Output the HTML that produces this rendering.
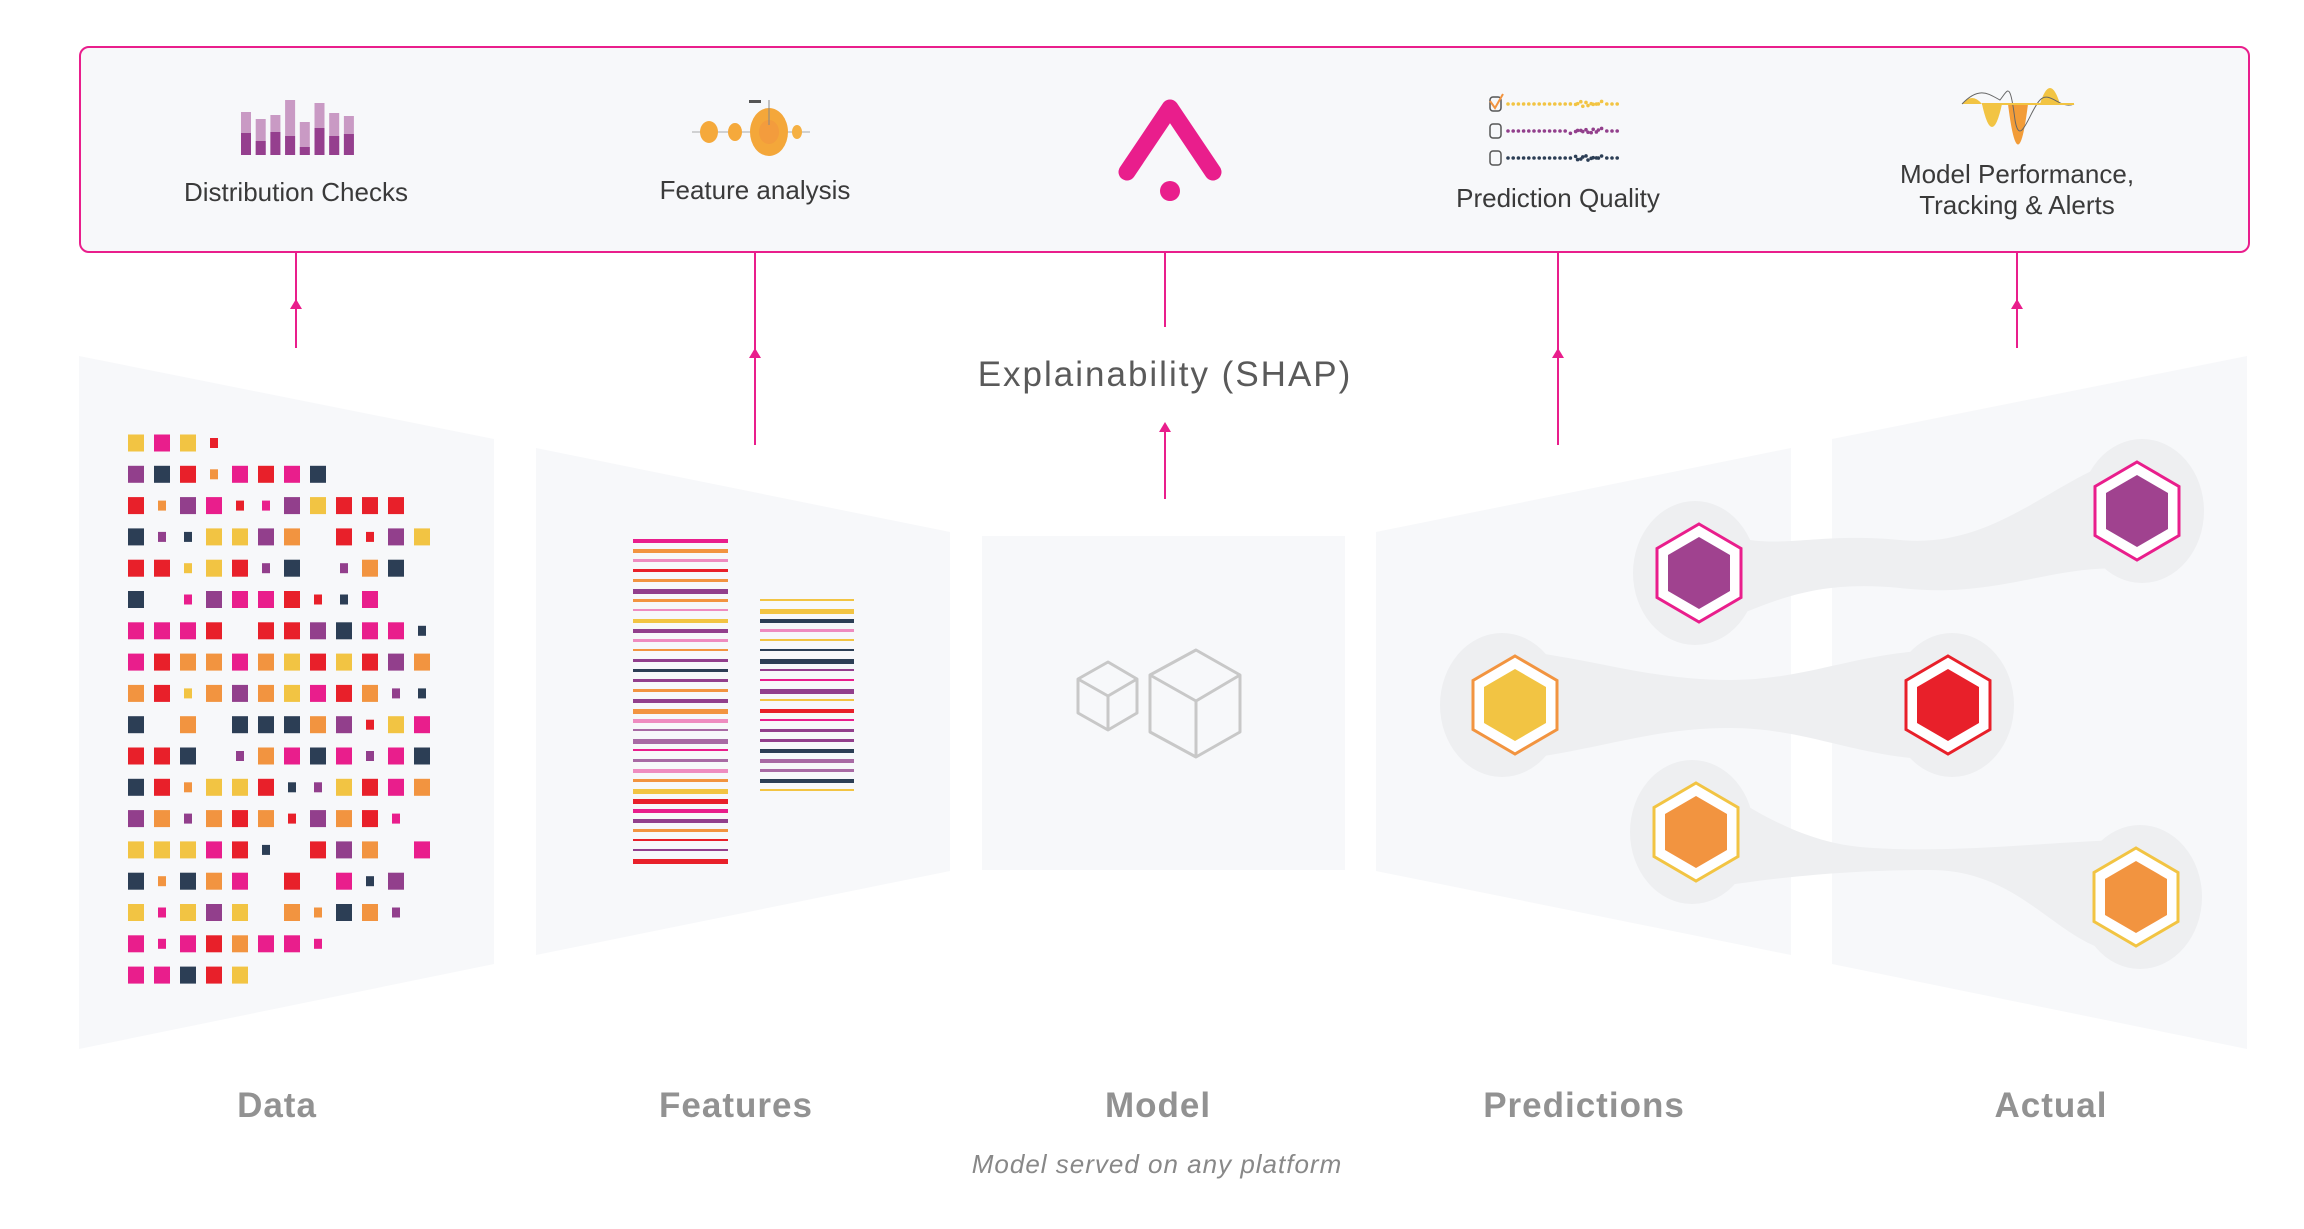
<!DOCTYPE html>
<html><head><meta charset="utf-8"><style>
html,body{margin:0;padding:0;background:#fff;}
svg{display:block;}
text{font-family:"Liberation Sans",sans-serif;}
</style></head><body>
<svg id="s" width="2304" height="1229" viewBox="0 0 2304 1229" xmlns="http://www.w3.org/2000/svg">
<rect x="80" y="47" width="2169" height="205" rx="9" fill="#f7f8fa" stroke="#e91e8c" stroke-width="2"/>
<g id="bars"></g>
<text x="296" y="201" font-size="26" fill="#3a3a3a" text-anchor="middle">Distribution Checks</text>
<g>
<line x1="692" y1="132" x2="810" y2="132" stroke="#aaa" stroke-width="1"/>
<ellipse cx="709" cy="132" rx="9" ry="11" fill="#f5a93b"/>
<ellipse cx="735" cy="132" rx="7" ry="9" fill="#f5a93b"/>
<ellipse cx="769" cy="132" rx="19" ry="24" fill="#f4a73a"/>
<ellipse cx="769" cy="132" rx="10" ry="12" fill="#f29440" opacity=".6"/>
<ellipse cx="797" cy="132" rx="5" ry="7" fill="#f5b043"/>
<line x1="769" y1="100" x2="769" y2="125" stroke="#888" stroke-width="1"/>
<rect x="749" y="100" width="12" height="3" fill="#555"/>
</g>
<text x="755" y="199" font-size="26" fill="#3a3a3a" text-anchor="middle">Feature analysis</text>
<polyline points="1127,172 1170,108 1213,172" fill="none" stroke="#e91e8c" stroke-width="17" stroke-linecap="round" stroke-linejoin="round"/>
<circle cx="1170" cy="191" r="10" fill="#e91e8c"/>
<g id="pq">
<rect x="1490" y="97" width="11" height="14" rx="3" fill="none" stroke="#555" stroke-width="1.5"/>
<polyline points="1490,101 1495,108 1503,94" fill="none" stroke="#f29440" stroke-width="2"/>
<rect x="1490" y="124" width="11" height="14" rx="3" fill="none" stroke="#555" stroke-width="1.5"/>
<rect x="1490" y="151" width="11" height="14" rx="3" fill="none" stroke="#555" stroke-width="1.5"/>
</g>
<text x="1558" y="207" font-size="26" fill="#3a3a3a" text-anchor="middle">Prediction Quality</text>
<g>
<path d="M1962,104 Q1972,92 1982,104 Z" fill="#f2c443"/>
<path d="M1982,104 Q1992,150 2002,104 Z" fill="#f2c443"/>
<path d="M2008,104 Q2018,185 2028,104 Z" fill="#f29c38"/>
<path d="M2040,104 Q2050,72 2060,104 Z" fill="#f2c443"/>
<path d="M1962,104 C1980,85 1990,95 2000,100 C2008,90 2010,80 2015,120 C2020,150 2030,110 2040,100 C2050,90 2060,110 2074,104" fill="none" stroke="#666" stroke-width="1"/>
<line x1="1982" y1="104" x2="2074" y2="104" stroke="#f2c443" stroke-width="2"/>
</g>
<text x="2017" y="183" font-size="26" fill="#3a3a3a" text-anchor="middle">Model Performance,</text>
<text x="2017" y="214" font-size="26" fill="#3a3a3a" text-anchor="middle">Tracking &amp; Alerts</text>

<g fill="#f7f8fa">
<polygon points="79,356 494,439 494,964 79,1049"/>
<polygon points="536,448 950,532 950,871 536,955"/>
<rect x="982" y="536" width="363" height="334"/>
<polygon points="1376,532 1791,448 1791,955 1376,871"/>
<polygon points="1832,439 2247,356 2247,1049 1832,964"/>
</g>

<g stroke="#e91e8c" stroke-width="2" fill="#e91e8c">
<line x1="296" y1="252" x2="296" y2="348"/><polygon points="290,309 302,309 296,299" stroke="none"/>
<line x1="755" y1="252" x2="755" y2="445"/><polygon points="749,358 761,358 755,348" stroke="none"/>
<line x1="1165" y1="252" x2="1165" y2="327"/>
<line x1="1165" y1="499" x2="1165" y2="425"/><polygon points="1159,432 1171,432 1165,422" stroke="none"/>
<line x1="1558" y1="252" x2="1558" y2="445"/><polygon points="1552,358 1564,358 1558,348" stroke="none"/>
<line x1="2017" y1="252" x2="2017" y2="348"/><polygon points="2011,309 2023,309 2017,299" stroke="none"/>
</g>
<text x="1165" y="386" font-size="35" fill="#5a5a5a" text-anchor="middle" letter-spacing="2">Explainability (SHAP)</text>

<g id="grid"></g>
<g id="flines"></g>

<g fill="none" stroke="#c8c8c8" stroke-width="3" stroke-linejoin="round">
<polygon points="1108,662 1137,679 1137,713 1108,730 1078,713 1078,679"/>
<polyline points="1078,679 1108,696 1137,679"/><line x1="1108" y1="696" x2="1108" y2="730"/>
<polygon points="1196,650 1240,675 1240,732 1196,757 1150,732 1150,675"/>
<polyline points="1150,675 1196,701 1240,675"/><line x1="1196" y1="701" x2="1196" y2="757"/>
</g>

<g fill="#eeeff1">
<path d="M1699,520 C1760,560 1800,530 1900,540 C2000,550 2060,470 2137,455 L2137,570 C2060,560 2000,600 1900,588 C1800,578 1760,610 1699,630 Z"/>
<path d="M1515,650 C1600,660 1650,680 1730,680 C1810,680 1860,650 1948,650 L1948,760 C1860,760 1810,728 1730,728 C1650,728 1600,750 1515,760 Z"/>
<path d="M1696,775 C1740,800 1790,840 1860,847 C1950,855 2060,840 2136,840 L2136,955 C2060,955 2030,870 1930,870 C1830,870 1760,880 1696,890 Z"/>
<ellipse cx="1695" cy="573" rx="62" ry="72"/>
<ellipse cx="2142" cy="511" rx="62" ry="72"/>
<ellipse cx="1502" cy="705" rx="62" ry="72"/>
<ellipse cx="1952" cy="705" rx="62" ry="72"/>
<ellipse cx="1692" cy="832" rx="62" ry="72"/>
<ellipse cx="2140" cy="897" rx="62" ry="72"/>
</g>
<g id="hex"></g>

<g font-size="35" font-weight="bold" fill="#929292" text-anchor="middle" letter-spacing="1">
<text x="277" y="1117">Data</text>
<text x="736" y="1117">Features</text>
<text x="1158" y="1117">Model</text>
<text x="1584" y="1117">Predictions</text>
<text x="2051" y="1117">Actual</text>
</g>
<text x="1157" y="1173" font-size="26" font-style="italic" fill="#888" text-anchor="middle" letter-spacing="1">Model served on any platform</text>
</svg>
<script>
var NS="http://www.w3.org/2000/svg";
function el(p,t,a){var e=document.createElementNS(NS,t);for(var k in a)e.setAttribute(k,a[k]);p.appendChild(e);return e;}
var seed=7;function r(){seed=(seed*9301+49297)%233280;return seed/233280;}
var b=document.getElementById('bars');
var tops=[112,119,115,100,122,103,113,116],dk=[133,141,132,136,147,128,136,134];
for(var i=0;i<8;i++){var x=241+i*14.7;el(b,'rect',{x:x,y:tops[i],width:10,height:155-tops[i],fill:'#c99ac4'});el(b,'rect',{x:x,y:dk[i],width:10,height:155-dk[i],fill:'#953f8e'});}
var pq=document.getElementById('pq');var pc=['#f2c443','#923f8c','#2c3e55'];
for(var row=0;row<3;row++){var y=104+row*27;for(var j=0;j<22;j++){var x=1508+j*5.2;var jit=(j>11&&j<19)?(r()-.5)*6:0;el(pq,'circle',{cx:x,cy:y+jit,r:1.8,fill:pc[row]});if(j>12&&j<18)el(pq,'circle',{cx:x+2,cy:y-jit,r:1.8,fill:pc[row]});}}
var g=document.getElementById('grid');var cols=['#e91e8c','#2c3e55','#e8202a','#f29440','#923f8c','#f2c443'];
var lens=[4,8,11,12,11,10,12,12,12,12,12,12,11,12,11,11,8,5];
for(var rr=0;rr<18;rr++){for(var c=0;c<lens[rr];c++){var v=r();if(v<0.06&&rr>1&&c>0)continue;var small=v<0.25&&c>0;var w=small?8:16,h=small?10:17;var cx=128+c*26+8,cy=435+rr*31.3+8;el(g,'rect',{x:cx-w/2,y:cy-h/2,width:w,height:h,fill:cols[Math.floor(r()*6)]});}}
var f=document.getElementById('flines');var lc=['#923f8c','#f2c443','#e91e8c','#f29440','#e8202a','#2c3e55','#ee8cc0','#a86aa4'];
for(var k=0;k<33;k++){el(f,'rect',{x:633,y:539+k*10,width:95,height:2+Math.floor(r()*4),fill:lc[Math.floor(r()*8)]});}
for(var k=0;k<20;k++){el(f,'rect',{x:760,y:599+k*10,width:94,height:2+Math.floor(r()*4),fill:lc[Math.floor(r()*8)]});}
var H=document.getElementById('hex');
function hex(cx,cy,sc,fc){function pts(w,h){return [cx+','+(cy-h),(cx+w)+','+(cy-h/2),(cx+w)+','+(cy+h/2),cx+','+(cy+h),(cx-w)+','+(cy+h/2),(cx-w)+','+(cy-h/2)].join(' ');}
el(H,'polygon',{points:pts(42,49),fill:'#fff',stroke:sc,'stroke-width':3});el(H,'polygon',{points:pts(31,36),fill:fc});}
hex(1699,573,'#e91e8c','#a0428f');hex(2137,511,'#e91e8c','#a0428f');
hex(1515,705,'#f29440','#f2c443');hex(1948,705,'#e8202a','#e8202a');
hex(1696,832,'#f2c443','#f29440');hex(2136,897,'#f2c443','#f29440');
</script>
</body></html>
